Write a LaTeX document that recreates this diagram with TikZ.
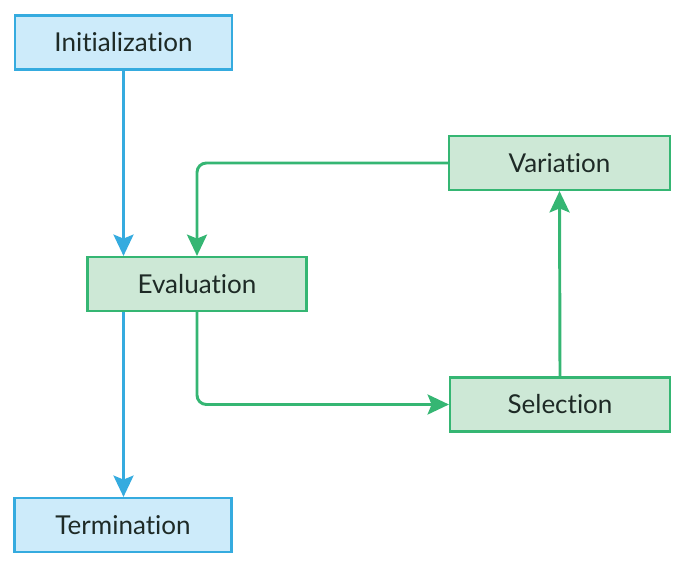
\documentclass[tikz,border=0pt]{standalone}
\usepackage{fontspec}
\setmainfont{Lato}[Ligatures={NoCommon,NoDiscretionary,NoContextual}]
\usetikzlibrary{arrows.meta}
\definecolor{bluefill}{HTML}{CDEBFA}
\definecolor{blueline}{HTML}{35ABDF}
\definecolor{greenfill}{HTML}{CDE8D6}
\definecolor{greenline}{HTML}{35B673}
\definecolor{txt}{HTML}{1E2A26}
\begin{document}
\begin{tikzpicture}[x=0.75pt,y=-0.75pt,
  box/.style={draw, line width=1.6pt, minimum height=54*0.75pt, inner sep=0pt,
    font=\fontsize{19.5}{22}\selectfont, text=txt},
  bluebox/.style={box, fill=bluefill, draw=blueline, minimum width=217*0.75pt},
  greenbox/.style={box, fill=greenfill, draw=greenline, minimum width=219*0.75pt},
  arr/.style={line width=2.2pt, -{Stealth[length=16pt,width=15pt,inset=3pt]}, rounded corners=7pt},
  bluearr/.style={arr, draw=blueline},
  greenarr/.style={arr, draw=greenline}]
\useasboundingbox (0,0) rectangle (685,567);
\node[bluebox] (init) at (123.5,42.5) {Initialization};
\node[greenbox] (eval) at (197,284) {Evaluation};
\node[bluebox] (term) at (123,525) {Termination};
\node[greenbox, minimum width=221*0.75pt] (var) at (559.5,163) {Variation};
\node[greenbox, minimum width=220*0.75pt] (sel) at (560,404.5) {Selection};
\draw[bluearr] (init.south) -- (init.south |- eval.north);
\draw[bluearr] (init.south |- eval.south) -- (init.south |- term.north);
\draw[greenarr] (eval.south) -- (eval.south |- sel.west) -- (sel.west);
\draw[greenarr] (sel.north) -- (var.south);
\draw[greenarr] (var.west) -- (var.west -| eval.north) -- (eval.north);
\end{tikzpicture}
\end{document}
